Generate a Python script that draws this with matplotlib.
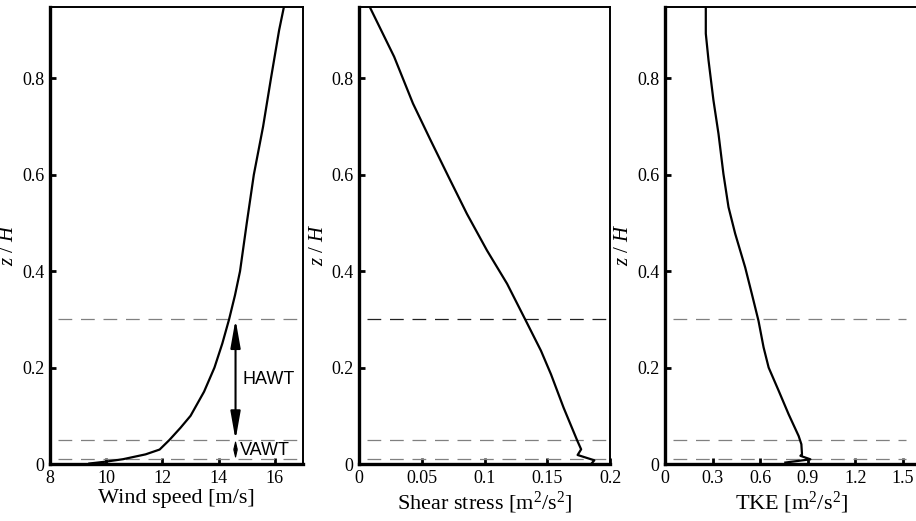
import numpy as np
import matplotlib.pyplot as plt

# profile data (z/H vs quantity)
z_wind = [0.001, 0.005, 0.01, 0.02, 0.03, 0.05, 0.075, 0.1, 0.15, 0.2, 0.25,
          0.3, 0.35, 0.4, 0.5, 0.6, 0.7, 0.8, 0.9, 0.948]
wind_speed = [9.4, 10.0, 10.6, 11.4, 11.9, 12.25, 12.64, 13.0, 13.48, 13.85, 14.13,
              14.37, 14.58, 14.76, 15.0, 15.25, 15.58, 15.86, 16.15, 16.32]

z_shear = [0.0, 0.0077, 0.0187, 0.0305, 0.048, 0.117, 0.186, 0.235, 0.297, 0.374,
           0.443, 0.519, 0.595, 0.672, 0.748, 0.845, 0.947]
shear = [0.185, 0.1875, 0.1742, 0.177, 0.174, 0.163, 0.153, 0.145, 0.133, 0.118,
         0.102, 0.086, 0.0715, 0.057, 0.043, 0.028, 0.0088]

z_tke = [0.003, 0.0097, 0.017, 0.020, 0.041, 0.058, 0.103, 0.152, 0.20, 0.242,
         0.297, 0.353, 0.408, 0.478, 0.533, 0.602, 0.685, 0.755, 0.838, 0.893, 0.947]
tke = [0.758, 0.916, 0.853, 0.863, 0.859, 0.842, 0.779, 0.716, 0.653, 0.621,
       0.589, 0.547, 0.505, 0.442, 0.40, 0.368, 0.337, 0.305, 0.274, 0.257, 0.257]

layer_heights = [0.3, 0.05, 0.01]

xlabels = ["Wind speed [m/s]", r"Shear stress [m$^2$/s$^2$]", r"TKE [m$^2$/s$^2$]"]
xlims = [(8, 17), (0, 0.2), (0, 1.6)]
xticks = [[8, 10, 12, 14, 16], [0, 0.05, 0.1, 0.15, 0.2], [0, 0.3, 0.6, 0.9, 1.2, 1.5]]
xticklabels = [["8", "10", "12", "14", "16"], ["0", "0.05", "0.1", "0.15", "0.2"],
               ["0", "0.3", "0.6", "0.9", "1.2", "1.5"]]
yticks = [0, 0.2, 0.4, 0.6, 0.8]
yticklabels = ["0", "0.2", "0.4", "0.6", "0.8"]

plt.rcParams["font.family"] = "Liberation Serif"
plt.rcParams["mathtext.fontset"] = "custom"
plt.rcParams["mathtext.rm"] = "Liberation Serif"
plt.rcParams["mathtext.it"] = "Liberation Serif:italic"

fig = plt.figure(figsize=(9.16, 5.21), dpi=100)
lefts = [50 / 916, 359 / 916, 665 / 916]
widths = [253 / 916, 251 / 916, 254 / 916]
bottom, height = 0.1094, 0.877

curves = [(wind_speed, z_wind), (shear, z_shear), (tke, z_tke)]
for i in range(3):
    ax = fig.add_axes([lefts[i], bottom, widths[i], height])
    ax.set_xlim(*xlims[i])
    ax.set_ylim(0, 0.948)
    for h in layer_heights:
        col = "#222222" if (i == 1 and h == 0.3) else "#808080"
        ax.axhline(h, xmin=0.03, xmax=0.95 if i == 2 else 1, color=col, lw=0.9,
                   dashes=(11, 7))
    x, z = curves[i]
    ax.plot(x, z, color="black", lw=1.6)
    ax.set_xticks(xticks[i])
    ax.set_xticklabels(xticklabels[i])
    ax.set_yticks(yticks)
    ax.set_yticklabels(yticklabels)
    ax.tick_params(direction="in", length=4, width=2, labelsize=13, pad=4)
    ax.set_xlabel(xlabels[i], fontsize=16, labelpad=2)
    ax.set_ylabel(r"$z\ /\ H$", fontsize=15)
    ax.yaxis.set_label_coords(-0.125, 0.48)
    ax.spines["left"].set_linewidth(2.4)
    ax.spines["bottom"].set_linewidth(2.4)
    ax.spines["top"].set_linewidth(1.4)
    ax.spines["right"].set_linewidth(1.4)
    if i == 0:
        ax.annotate("", xy=(14.6, 0.3), xytext=(14.6, 0.05),
                    arrowprops=dict(arrowstyle="<|-|>,head_length=1.7,head_width=0.3",
                                    color="black", lw=1.5, shrinkA=0, shrinkB=0))
        ax.annotate("", xy=(14.6, 0.05), xytext=(14.6, 0.01),
                    arrowprops=dict(arrowstyle="<|-|>,head_length=0.5,head_width=0.12",
                                    color="black", lw=0.8, shrinkA=0, shrinkB=0))
        ax.text(14.85, 0.175, "HAWT", family="Liberation Sans", fontsize=13, va="center")
        ax.text(14.75, 0.029, "VAWT", family="Liberation Sans", fontsize=13, va="center")

fig.savefig("out.png", dpi=100)
